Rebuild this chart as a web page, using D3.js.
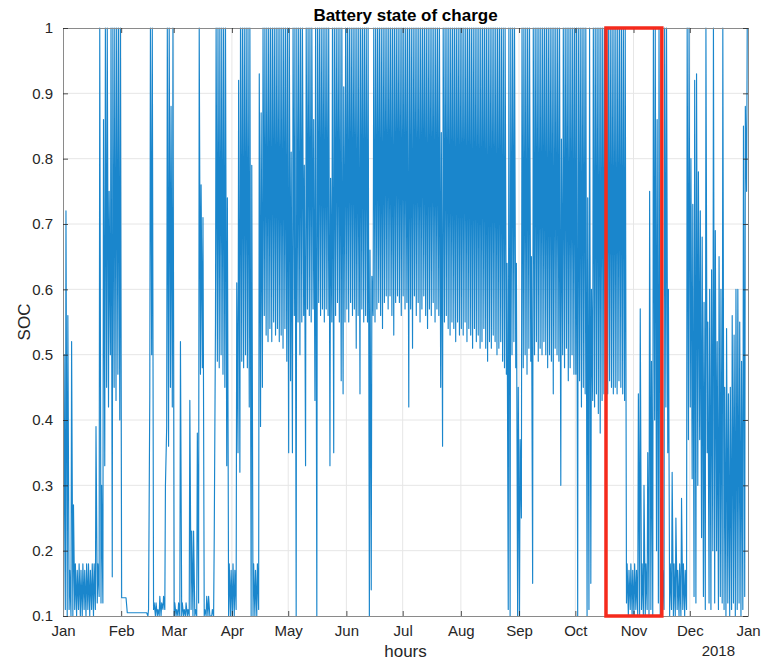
<!DOCTYPE html>
<html>
<head>
<meta charset="utf-8">
<script src="https://cdn.jsdelivr.net/npm/d3@7"></script>
<style>
	body { margin: 0; background: #fff; }
	svg { font-family: "Liberation Sans", Arial, Helvetica, sans-serif; }
</style>
</head>
<body>
<svg id="soc-chart" width="761" height="663"></svg>
<script>

// daily [peak, morning trough] of the battery SOC
const jan = [[0.50,0.10],[0.72,0.11],[0.56,0.10],[0.17,0.11],[0.52,0.10],[0.27,0.10],[0.18,0.11],[0.17,0.10],[0.18,0.11],[0.17,0.10],
	[0.18,0.10],[0.17,0.11],[0.18,0.10],[0.18,0.11],[0.17,0.10],[0.18,0.11],[0.18,0.10],[0.39,0.11],[0.18,0.12],[1.00,0.13],
	[0.30,0.12],[0.86,0.12],[1.00,0.33],[1.00,0.45],[0.75,0.42],[1.00,0.50],[1.00,0.16],[1.00,0.45],[1.00,0.43],[1.00,0.47],
	[1.00,0.40]]
const feb = [[0.128,0.128],[0.128,0.128],[0.128,0.128],[0.105,0.105],[0.105,0.105],[0.105,0.105],[0.105,0.105],[0.105,0.105],[0.105,0.105],[0.105,0.105],
	[0.105,0.105],[0.105,0.105],[0.105,0.105],[0.105,0.105],[0.11,0.10],[1.00,0.44],[1.00,0.50],[0.12,0.11],[0.12,0.10],[0.11,0.10],
	[0.13,0.10],[0.12,0.10],[0.13,0.11],[0.30,0.11],[1.00,0.39],[1.00,0.36],[0.88,0.45],[1.00,0.42]]
const mar = [[0.12,0.10],[0.11,0.10],[0.12,0.10],[0.52,0.10],[0.12,0.10],[0.11,0.10],[0.12,0.10],[0.11,0.10],[0.43,0.10],[0.23,0.11],
	[0.23,0.10],[0.11,0.10],[0.38,0.10],[1.00,0.12],[0.76,0.47],[0.71,0.48],[0.11,0.10],[0.13,0.10],[0.13,0.10],[0.10,0.10],
	[0.11,0.10],[0.22,0.10],[1.00,0.55],[1.00,0.49],[1.00,0.48],[1.00,0.50],[1.00,0.47],[1.00,0.45],[0.74,0.33],[0.18,0.10],
	[0.17,0.10]]
const apr = [[0.18,0.10],[0.17,0.10],[0.61,0.11],[0.92,0.35],[1.00,0.32],[1.00,0.49],[1.00,0.48],[1.00,0.50],[1.00,0.48],[1.00,0.42],
	[0.79,0.10],[0.18,0.10],[0.17,0.10],[0.18,0.10],[0.93,0.11],[0.87,0.39],[1.00,0.45],[1.00,0.56],[1.00,0.53],[1.00,0.52],
	[1.00,0.54],[1.00,0.52],[1.00,0.55],[1.00,0.53],[1.00,0.54],[1.00,0.52],[1.00,0.53],[1.00,0.51],[1.00,0.54],[1.00,0.49]]
const may = [[1.00,0.35],[0.81,0.46],[1.00,0.35],[1.00,0.56],[1.00,0.10],[1.00,0.55],[1.00,0.50],[1.00,0.55],[0.79,0.56],[1.00,0.33],
	[1.00,0.57],[1.00,0.56],[1.00,0.55],[0.86,0.57],[1.00,0.43],[1.00,0.10],[1.00,0.58],[1.00,0.56],[1.00,0.57],[1.00,0.55],
	[1.00,0.57],[1.00,0.56],[0.77,0.33],[1.00,0.55],[1.00,0.35],[1.00,0.56],[1.00,0.58],[1.00,0.55],[1.00,0.46],[0.91,0.44],
	[1.00,0.55]]
const jun = [[1.00,0.57],[1.00,0.55],[1.00,0.58],[1.00,0.56],[1.00,0.57],[1.00,0.51],[1.00,0.56],[1.00,0.44],[1.00,0.57],[1.00,0.55],
	[1.00,0.56],[1.00,0.55],[0.66,0.10],[0.62,0.14],[1.00,0.56],[1.00,0.55],[1.00,0.57],[1.00,0.58],[1.00,0.56],[1.00,0.54],
	[1.00,0.58],[1.00,0.59],[1.00,0.57],[1.00,0.59],[1.00,0.56],[1.00,0.53],[1.00,0.58],[1.00,0.59],[1.00,0.58],[1.00,0.56]]
const jul = [[1.00,0.59],[1.00,0.57],[1.00,0.58],[1.00,0.42],[1.00,0.57],[1.00,0.51],[1.00,0.59],[1.00,0.56],[1.00,0.58],[1.00,0.55],
	[1.00,0.57],[1.00,0.59],[1.00,0.56],[1.00,0.54],[1.00,0.57],[1.00,0.56],[1.00,0.58],[1.00,0.55],[1.00,0.57],[1.00,0.56],
	[0.84,0.45],[1.00,0.36],[1.00,0.55],[1.00,0.56],[1.00,0.54],[1.00,0.53],[1.00,0.55],[1.00,0.54],[1.00,0.52],[1.00,0.55],
	[1.00,0.53]]
const aug = [[1.00,0.54],[1.00,0.53],[1.00,0.55],[1.00,0.52],[1.00,0.54],[1.00,0.53],[1.00,0.51],[1.00,0.54],[1.00,0.52],[1.00,0.53],
	[1.00,0.51],[1.00,0.52],[1.00,0.54],[1.00,0.51],[1.00,0.49],[1.00,0.52],[1.00,0.51],[1.00,0.53],[1.00,0.52],[1.00,0.50],
	[1.00,0.51],[1.00,0.52],[1.00,0.49],[1.00,0.48],[0.64,0.47],[1.00,0.11],[1.00,0.10],[1.00,0.50],[1.00,0.52],[0.64,0.48],
	[0.45,0.10]]
const sep = [[0.37,0.10],[1.00,0.25],[1.00,0.48],[1.00,0.50],[1.00,0.47],[1.00,0.51],[0.65,0.49],[1.00,0.15],[1.00,0.50],[1.00,0.52],
	[1.00,0.49],[1.00,0.51],[1.00,0.50],[1.00,0.52],[1.00,0.50],[1.00,0.48],[1.00,0.50],[1.00,0.49],[1.00,0.44],[1.00,0.51],
	[1.00,0.50],[1.00,0.49],[0.83,0.30],[1.00,0.50],[1.00,0.48],[1.00,0.51],[1.00,0.46],[1.00,0.48],[1.00,0.50],[1.00,0.47]]
const oct = [[1.00,0.47],[1.00,0.10],[1.00,0.46],[1.00,0.42],[1.00,0.45],[1.00,0.44],[0.74,0.10],[1.00,0.11],[0.60,0.15],[1.00,0.43],
	[1.00,0.42],[1.00,0.44],[1.00,0.41],[1.00,0.38],[1.00,0.43],[1.00,0.44],[1.00,0.45],[1.00,0.44],[1.00,0.46],[1.00,0.45],
	[1.00,0.44],[1.00,0.45],[1.00,0.44],[1.00,0.46],[1.00,0.45],[1.00,0.44],[1.00,0.43],[0.18,0.12],[0.17,0.10],[0.18,0.11],
	[0.17,0.10]]
const nov = [[0.18,0.10],[0.17,0.11],[0.44,0.10],[0.57,0.10],[0.18,0.11],[0.30,0.10],[0.18,0.10],[0.35,0.11],[0.75,0.10],[0.49,0.11],
	[1.00,0.10],[1.00,0.40],[0.86,0.20],[1.00,0.12],[0.28,0.10],[0.17,0.10],[1.00,0.11],[1.00,0.42],[0.60,0.35],[0.18,0.10],
	[0.32,0.11],[0.18,0.10],[0.25,0.10],[0.17,0.11],[0.18,0.10],[0.28,0.10],[0.18,0.11],[0.17,0.10],[1.00,0.11],[1.00,0.37]]
const dec = [[0.80,0.42],[0.73,0.31],[0.92,0.13],[0.93,0.12],[0.78,0.30],[0.72,0.37],[0.68,0.22],[0.58,0.13],[1.00,0.11],[0.55,0.35],
	[0.60,0.12],[0.63,0.11],[1.00,0.20],[0.69,0.12],[0.52,0.20],[0.65,0.11],[0.60,0.13],[1.00,0.12],[0.45,0.11],[0.54,0.10],
	[0.44,0.12],[0.45,0.10],[0.56,0.11],[0.53,0.12],[0.60,0.10],[0.60,0.11],[0.55,0.12],[0.49,0.10],[0.85,0.11],[0.88,0.13],
	[1.00,0.75]]

const months = [jan, feb, mar, apr, may, jun, jul, aug, sep, oct, nov, dec]
const monthLabels = ['Jan', 'Feb', 'Mar', 'Apr', 'May', 'Jun', 'Jul', 'Aug', 'Sep', 'Oct', 'Nov', 'Dec', 'Jan']
const yTicks = [0.1, 0.2, 0.3, 0.4, 0.5, 0.6, 0.7, 0.8, 0.9, 1]
const highlight = { from: new Date(2017, 9, 17, 8), to: new Date(2017, 10, 16, 2), low: 0.1, high: 1 }

const W = 761, H = 663
const margin = { top: 28, right: 13, bottom: 47, left: 63 }

const svg = d3.select('#soc-chart')

// one trough (early morning) and one peak (afternoon) per day
let series = []
months.forEach((days, m) => {
	days.forEach((d, i) => {
		const day = new Date(2017, m, i + 1)
		series.push({ t: d3.timeHour.offset(day, 6), soc: d[1] })
		series.push({ t: d3.timeHour.offset(day, 14), soc: d[0] })
	})
})

const x = d3.scaleTime()
	.domain([new Date(2017, 0, 1), new Date(2018, 0, 1)])
	.range([margin.left, W - margin.right])
const y = d3.scaleLinear()
	.domain([0.1, 1])
	.range([H - margin.bottom, margin.top])

const monthTicks = d3.range(13).map(m => new Date(2017, m, 1))

// grid
const grid = svg.append('g').attr('stroke', '#e6e6e6').attr('stroke-width', 1)
grid.selectAll('.vg').data(monthTicks.slice(1, -1)).enter().append('line')
	.attr('x1', d => x(d)).attr('x2', d => x(d))
	.attr('y1', y(1)).attr('y2', y(0.1))
grid.selectAll('.hg').data(yTicks.slice(1, -1)).enter().append('line')
	.attr('x1', x.range()[0]).attr('x2', x.range()[1])
	.attr('y1', d => y(d)).attr('y2', d => y(d))

svg.append('clipPath').attr('id', 'plot-clip').append('rect')
	.attr('x', x.range()[0]).attr('y', y(1) - 1)
	.attr('width', x.range()[1] - x.range()[0]).attr('height', y(0.1) - y(1) + 2)

const line = d3.line().x(d => x(d.t)).y(d => y(d.soc))

svg.append('path')
	.datum(series)
	.attr('clip-path', 'url(#plot-clip)')
	.attr('fill', 'none')
	.attr('stroke', '#1a86cc')
	.attr('stroke-width', 1.15)
	.attr('stroke-linejoin', 'round')
	.attr('d', line)

// axes, MATLAB style box with inward ticks on all sides
const axisColor = '#262626'
const fmtY = d3.format('.1~f')

const xAxis = svg.append('g')
	.attr('transform', `translate(0,${y(0.1)})`)
	.call(d3.axisBottom(x).tickValues(monthTicks).tickFormat((d, i) => monthLabels[i]).tickSizeInner(-5).tickSizeOuter(0).tickPadding(9))
const xTop = svg.append('g')
	.attr('transform', `translate(0,${y(1)})`)
	.call(d3.axisTop(x).tickValues(monthTicks).tickFormat('').tickSizeInner(-5).tickSizeOuter(0))
const yAxis = svg.append('g')
	.attr('transform', `translate(${x.range()[0]},0)`)
	.call(d3.axisLeft(y).tickValues(yTicks).tickFormat(fmtY).tickSizeInner(-5).tickSizeOuter(0).tickPadding(10))
const yRight = svg.append('g')
	.attr('transform', `translate(${x.range()[1]},0)`)
	.call(d3.axisRight(y).tickValues(yTicks).tickFormat('').tickSizeInner(-5).tickSizeOuter(0))

;[xAxis, xTop, yAxis, yRight].forEach(g => {
	g.select('.domain').attr('stroke', '#8a8a8a').attr('stroke-width', 1)
	g.selectAll('.tick line').attr('stroke', axisColor).attr('stroke-width', 0.8)
	g.selectAll('text').attr('fill', axisColor).style('font-size', '15px')
})

svg.append('text')
	.attr('x', x(new Date(2018, 0, 1)) - 13)
	.attr('y', 656)
	.attr('text-anchor', 'end')
	.attr('fill', axisColor)
	.style('font-size', '15px')
	.text('2018')

// highlighted window
svg.append('rect')
	.attr('x', x(highlight.from))
	.attr('y', y(highlight.high))
	.attr('width', x(highlight.to) - x(highlight.from))
	.attr('height', y(highlight.low) - y(highlight.high))
	.attr('fill', 'none')
	.attr('stroke', '#f52a1c')
	.attr('stroke-width', 3.5)

// labels
const midX = (x.range()[0] + x.range()[1]) / 2
svg.append('text')
	.attr('x', midX).attr('y', 21)
	.attr('text-anchor', 'middle')
	.attr('fill', '#000')
	.style('font-size', '17px').style('font-weight', 'bold')
	.text('Battery state of charge')
svg.append('text')
	.attr('x', midX).attr('y', 657)
	.attr('text-anchor', 'middle')
	.attr('fill', axisColor)
	.style('font-size', '17px')
	.text('hours')
svg.append('text')
	.attr('transform', `translate(30,${(y(1) + y(0.1)) / 2}) rotate(-90)`)
	.attr('text-anchor', 'middle')
	.attr('fill', axisColor)
	.style('font-size', '17px')
	.text('SOC')

</script>
</body>
</html>
